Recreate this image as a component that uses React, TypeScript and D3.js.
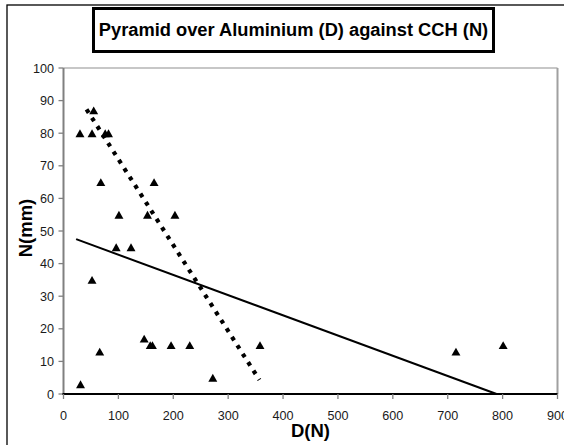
import React from "react";
import * as d3 from "d3";

// ---- data ----
const dValues = [30, 52, 55, 76, 82, 68, 101, 153, 165, 203, 96, 123, 52, 66, 31, 147, 158, 162, 196, 230, 272, 358, 715, 801];
const nValues = [80, 80, 87, 80, 80, 65, 55, 55, 65, 55, 45, 45, 35, 13, 3, 17, 15, 15, 15, 15, 5, 15, 13, 15];

// solid trend line (endpoints as seen)
const solidTrendD = [23, 789];
const solidTrendN = [47.5, 0];
// dotted trend line (endpoints as seen)
const dottedTrendD = [42, 357];
const dottedTrendN = [87.3, 4.3];

const xTicks = [0, 100, 200, 300, 400, 500, 600, 700, 800, 900];
const yTicks = [0, 10, 20, 30, 40, 50, 60, 70, 80, 90, 100];

const titleText = "Pyramid over Aluminium (D) against CCH (N)";
const xTitle = "D(N)";
const yTitle = "N(mm)";

const W = 564;
const H = 445;
const FONT = "'Liberation Sans', Arial, sans-serif";

export default function App() {
  const x = d3.scaleLinear().domain([0, 900]).range([63.5, 557.5]);
  const y = d3.scaleLinear().domain([0, 100]).range([394, 68]);

  const tri = {
    draw(ctx: any, size: number) {
      const w = Math.sqrt(size) * 1.45;
      const h = w * 0.88;
      ctx.moveTo(0, -h / 2);
      ctx.lineTo(w / 2, h / 2);
      ctx.lineTo(-w / 2, h / 2);
      ctx.closePath();
    },
  };
  const sym = d3.symbol().type(tri as any).size(38)();

  const line = d3
    .line<[number, number]>()
    .x((d) => x(d[0]))
    .y((d) => y(d[1]));

  const solidPts: [number, number][] = solidTrendD.map((d, i) => [d, solidTrendN[i]]);
  const dottedPts: [number, number][] = dottedTrendD.map((d, i) => [d, dottedTrendN[i]]);

  const x0 = x(0), x1 = x(900), y0 = y(0), y1 = y(100);

  return (
    <svg
      width={W}
      height={H}
      style={{ position: "absolute", left: 0, top: 0, background: "#fff" }}
      fontFamily={FONT}
    >
      <rect x={0} y={0} width={W} height={H} fill="#fff" />
      {/* outer chart border */}
      <rect x={7} y={5} width={700} height={600} fill="none" stroke="#000" strokeWidth={1.3} />

      {/* plot area border (top, right) */}
      <line x1={x0} x2={x1} y1={y1} y2={y1} stroke="#909090" strokeWidth={1.2} />
      <line x1={x1} x2={x1} y1={y1} y2={y0} stroke="#a0a0a0" strokeWidth={2} />

      {/* y axis */}
      <line x1={x0} x2={x0} y1={y1} y2={y0 + 1} stroke="#808080" strokeWidth={2} />
      {yTicks.map((t) => (
        <g key={"y" + t}>
          <line x1={x0 - 5} x2={x0} y1={y(t)} y2={y(t)} stroke="#808080" strokeWidth={1.3} />
          <text x={54} y={y(t)} dy="0.36em" textAnchor="end" fontSize={12.6} fill="#1a1a1a">
            {t}
          </text>
        </g>
      ))}

      {/* x axis */}
      <line x1={x0 - 1} x2={x1} y1={y0} y2={y0} stroke="#000" strokeWidth={2} />
      {xTicks.map((t) => (
        <g key={"x" + t}>
          <line x1={x(t)} x2={x(t)} y1={y0} y2={y0 + 5} stroke="#808080" strokeWidth={1.3} />
          <text x={x(t)} y={420} textAnchor="middle" fontSize={12.6} fill="#1a1a1a">
            {t}
          </text>
        </g>
      ))}

      {/* trend lines */}
      <path d={line(solidPts) || ""} fill="none" stroke="#000" strokeWidth={2} />
      <path
        d={line(dottedPts) || ""}
        fill="none"
        stroke="#000"
        strokeWidth={4.2}
        strokeDasharray="4 6"
        strokeLinecap="butt"
      />

      {/* points */}
      {dValues.map((d, i) => (
        <path key={"p" + i} d={sym || ""} transform={`translate(${x(d)},${y(nValues[i])})`} fill="#000" />
      ))}

      {/* title box */}
      <rect x={93.5} y={8.5} width={400} height={43} fill="#fff" stroke="#000" strokeWidth={3} />
      <text
        x={293.5}
        y={35.5}
        textAnchor="middle"
        fontSize={18.3}
        fontWeight="bold"
        fill="#000"
      >
        {titleText}
      </text>

      {/* axis titles */}
      <text x={310.5} y={437} textAnchor="middle" fontSize={18.5} fontWeight="bold" fill="#000">
        {xTitle}
      </text>
      <text
        transform="translate(31.5,228) rotate(-90)"
        textAnchor="middle"
        fontSize={18.5}
        fontWeight="bold"
        fill="#000"
      >
        {yTitle}
      </text>
    </svg>
  );
}
